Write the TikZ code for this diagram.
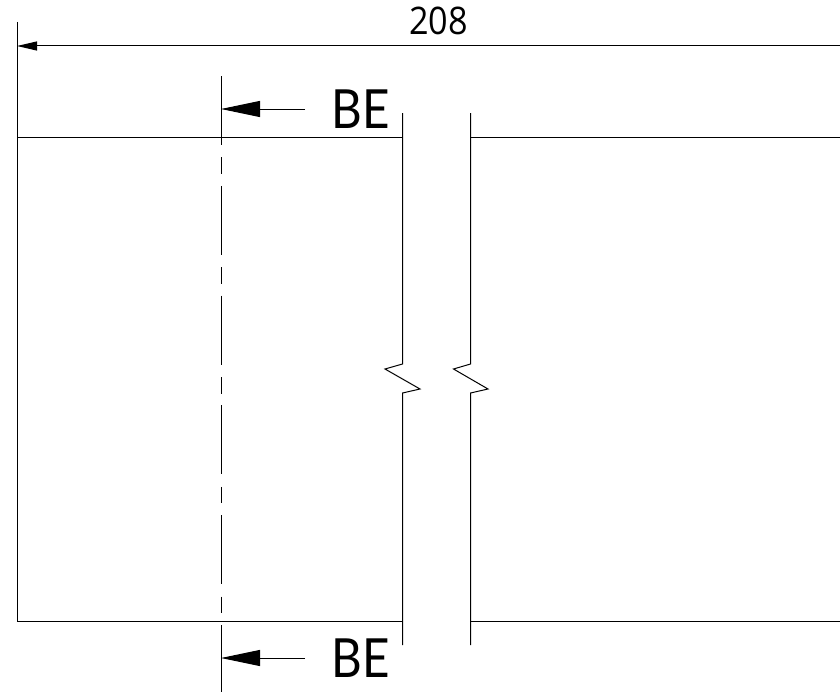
\documentclass[tikz,border=0pt]{standalone}
\usepackage{fontspec}
\usetikzlibrary{arrows.meta}
\setmainfont{Open Sans}
\newfontfamily\belabel{Lato}
\tikzset{
  thinline/.style={line width=1pt,draw=black},
  dimarrow/.style={thinline,-{Triangle[length=20pt,width=9pt,sharp,fill=black]}},
  cutarrow/.style={thinline,-{Triangle[length=39pt,width=16pt,sharp,fill=black]}},
  cutlabel/.style={inner sep=0pt,anchor=center,xscale=0.88,font=\belabel\fontsize{54}{54}\selectfont},
  dimlabel/.style={inner sep=0pt,anchor=center,xscale=0.9,font=\fontsize{38}{38}\selectfont},
  centreline/.style={thinline,dash pattern=on 69pt off 12.4pt on 16.5pt off 11.9pt}
}
\begin{document}
\begin{tikzpicture}[x=1pt,y=-1pt]
\useasboundingbox (0,0) rectangle (840,693);
\coordinate (dimL) at (17,46);
\coordinate (dimR) at (840,46);
\coordinate (cutTop) at (221,109);
\coordinate (cutTopS) at (305,109);
\coordinate (cutBot) at (221,658);
\coordinate (cutBotS) at (305,658);
\draw[thinline] (17,22) -- (17,621) -- (402,621);
\draw[thinline] (17,137) -- (402,137);
\draw[thinline] (470.5,137) -- (840,137);
\draw[thinline] (470.5,621) -- (840,621);
\draw[thinline] (402.5,113) -- (402.5,364) -- (385,369) -- (420,389) -- (402.5,393) -- (402.5,645);
\draw[thinline] (470.5,113) -- (470.5,364) -- (453.5,369) -- (488,389) -- (470.5,393) -- (470.5,645);
\draw[centreline] (221,76) -- (221,692);
\draw[dimarrow] (dimR) -- (dimL);
\draw[cutarrow] (cutTopS) -- (cutTop);
\draw[cutarrow] (cutBotS) -- (cutBot);
\node[dimlabel] (dim) at (438.5,21) {208};
\node[cutlabel] (beTop) at (360.5,109.5) {BE};
\node[cutlabel] (beBot) at (361,658.5) {BE};
\end{tikzpicture}
\end{document}
